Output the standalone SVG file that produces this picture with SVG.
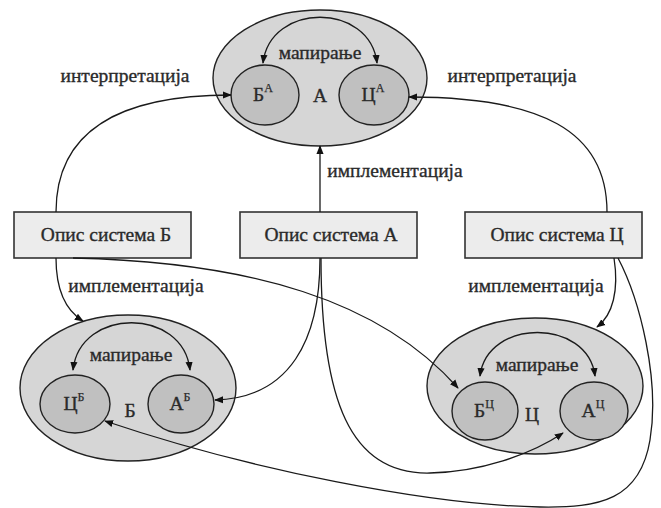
<svg xmlns="http://www.w3.org/2000/svg" width="661" height="508" viewBox="0 0 661 508">
<style>
.outer{fill:#d6d6d6;stroke:#222;stroke-width:1.4}
.inner{fill:#c0c0c0;stroke:#222;stroke-width:1.4}
.box{fill:#ececec;stroke:#333;stroke-width:1.6}
.t{font-family:"Liberation Serif","Times New Roman",serif;font-size:19.5px;fill:#2a2a2a;stroke:#2a2a2a;stroke-width:0.35}
.sup{font-size:12px;stroke-width:0.25}
.c{fill:none;stroke:#1a1a1a;stroke-width:1.3}
.ea{marker-end:url(#ah)}
.da{marker-start:url(#ah);marker-end:url(#ah)}
</style>
<defs>
<marker id="ah" viewBox="0 0 10 10" refX="9" refY="5" markerWidth="9" markerHeight="9" markerUnits="userSpaceOnUse" orient="auto-start-reverse">
<path d="M0 1 L10 5 L0 9 Z" fill="#111"/>
</marker>
</defs>
<rect width="661" height="508" fill="#fff"/>

<g id="sysA">
<ellipse class="outer" cx="320" cy="78" rx="107" ry="68"/>
<ellipse class="inner" cx="265" cy="95" rx="34" ry="30"/>
<ellipse class="inner" cx="374" cy="95" rx="35" ry="30"/>
<text class="t" x="320" y="59" text-anchor="middle">мапирање</text>
<text class="t" x="320" y="102" text-anchor="middle">А</text>
<text class="t" x="263" y="101" text-anchor="middle">Б<tspan class="sup" dy="-9">А</tspan></text>
<text class="t" x="373" y="101" text-anchor="middle">Ц<tspan class="sup" dy="-9">А</tspan></text>
</g>

<g id="sysB">
<ellipse class="outer" cx="128" cy="388" rx="108" ry="73"/>
<ellipse class="inner" cx="75" cy="404" rx="35" ry="29"/>
<ellipse class="inner" cx="181" cy="404" rx="33" ry="29"/>
<text class="t" x="131" y="361" text-anchor="middle">мапирање</text>
<text class="t" x="130" y="417" text-anchor="middle">Б</text>
<text class="t" x="74" y="410" text-anchor="middle">Ц<tspan class="sup" dy="-9">Б</tspan></text>
<text class="t" x="180" y="410" text-anchor="middle">А<tspan class="sup" dy="-9">Б</tspan></text>
</g>

<g id="sysC">
<ellipse class="outer" cx="535" cy="386" rx="108" ry="68"/>
<ellipse class="inner" cx="485" cy="411" rx="33" ry="29"/>
<ellipse class="inner" cx="594" cy="411" rx="34" ry="29"/>
<text class="t" x="537" y="371" text-anchor="middle">мапирање</text>
<text class="t" x="532" y="421" text-anchor="middle">Ц</text>
<text class="t" x="484" y="417" text-anchor="middle">Б<tspan class="sup" dy="-9">Ц</tspan></text>
<text class="t" x="593" y="417" text-anchor="middle">А<tspan class="sup" dy="-9">Ц</tspan></text>
</g>

<g id="descB">
<rect class="box" x="14" y="212" width="177" height="46"/>
<text class="t" x="106" y="241" text-anchor="middle">Опис система Б</text>
</g>
<g id="descA">
<rect class="box" x="240" y="212" width="177" height="46"/>
<text class="t" x="331" y="241" text-anchor="middle">Опис система А</text>
</g>
<g id="descC">
<rect class="box" x="465" y="212" width="177" height="46"/>
<text class="t" x="557" y="241" text-anchor="middle">Опис система Ц</text>
</g>

<g id="connectors">
<path class="c da" d="M263 63 C270 2 370 2 377 63"/>
<path class="c da" d="M73 370 C80 307 183 307 190 370"/>
<path class="c da" d="M480 376 C487 318 588 318 595 376"/>
<path class="c ea" d="M56 212 C56 130 120 95 231 95"/>
<path class="c ea" d="M607 212 C607 130 540 97 409 97"/>
<path class="c ea" d="M320 212 L320 146"/>
<path class="c ea" d="M56 258 C56 290 65 310 83 321"/>
<path class="c ea" d="M614 258 C619 290 613 315 597 327"/>
<path class="c ea" d="M73 258 C250 262 380 300 458 388"/>
<path class="c ea" d="M320 258 C320 340 290 398 215 400"/>
<path class="c ea" d="M321 258 C321 400 350 475 430 473 C480 472 530 455 563 433"/>
<path class="c ea" d="M618 258 C640 300 660 380 650 440 C640 500 600 508 540 507 C430 505 250 470 105 421"/>
</g>

<g id="labels">
<text class="t" x="125" y="82" text-anchor="middle">интерпретација</text>
<text class="t" x="512" y="82" text-anchor="middle">интерпретација</text>
<text class="t" x="395" y="177" text-anchor="middle">имплементација</text>
<text class="t" x="136" y="292" text-anchor="middle">имплементација</text>
<text class="t" x="536" y="292" text-anchor="middle">имплементација</text>
</g>
</svg>
